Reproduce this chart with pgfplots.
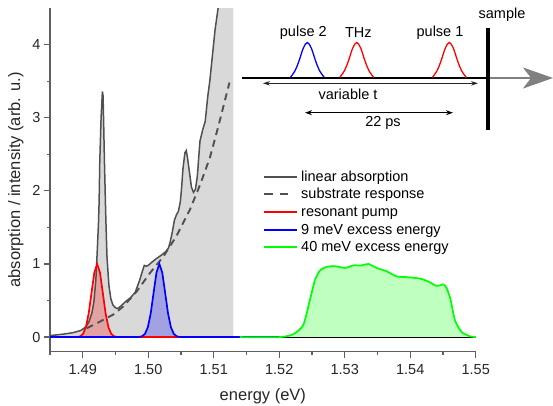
\documentclass[border=0pt]{standalone}
\usepackage{fontspec}
\setmainfont{Liberation Sans}
\usepackage{pgfplots}
\pgfplotsset{compat=1.18}
\usetikzlibrary{arrows.meta}
\definecolor{absgray}{RGB}{80,80,80}
\definecolor{fillgray}{RGB}{217,217,217}
\definecolor{axgray}{RGB}{95,95,95}
\newcommand\fs{\fontsize{14.5}{17}\selectfont}
\newcommand\fl{\fontsize{16.5}{19}\selectfont}
\newcommand\pulse[2]{\draw[#2, line width=1.3pt] plot[smooth, tension=0.6] coordinates {(#1-17,327.5) (#1-12,334.8) (#1-8,344.9) (#1-4,356.9) (#1,362.5) (#1+4,356.9) (#1+8,344.9) (#1+12,334.8) (#1+17,327.5)};}
\begin{document}
\begin{tikzpicture}[x=1pt,y=1pt]
\path[use as bounding box] (0,0) rectangle (553,405);
\begin{axis}[
  at={(50pt,53.3pt)}, anchor=south west, scale only axis,
  width=425.7pt, height=343.7pt,
  xmin=1.485, xmax=1.55, ymin=-0.2, ymax=4.5,
  axis lines*=left, axis line style={axgray, line width=1.4pt},
  tick align=outside, major tick length=6pt, minor tick length=3.5pt,
  every tick/.style={axgray, line width=1.2pt},
  xtick={1.49,1.50,1.51,1.52,1.53,1.54,1.55},
  xticklabels={1.49,1.50,1.51,1.52,1.53,1.54,1.55},
  minor xtick={1.485,1.495,1.505,1.515,1.525,1.535,1.545},
  ytick={0,1,2,3,4}, yticklabels={0,1,2,3,4},
  minor ytick={0.5,1.5,2.5,3.5},
  tick label style={font=\fs, text=black!85},
  xticklabel style={yshift=-3pt},
  xlabel={energy (eV)}, ylabel={absorption / intensity (arb. u.)},
  label style={font=\fl, text=black!85},
  xlabel style={at={(axis description cs:0.5,-0.129)}, anchor=center},
  ylabel style={at={(axis description cs:-0.08,0.5)}, anchor=center},
]
% linear absorption fill
\addplot[fill=fillgray, draw=none] coordinates {
(1.4850,0.02) (1.4870,0.04) (1.4885,0.06) (1.4897,0.09) (1.4905,0.14) (1.4910,0.22)
(1.4914,0.33) (1.4917,0.48) (1.4920,0.78) (1.4922,1.15) (1.4924,1.55) (1.4925,1.85)
(1.4926,2.40) (1.4928,3.00) (1.4930,3.36) (1.4931,3.30) (1.4932,2.90) (1.4933,2.45)
(1.4935,1.70) (1.4937,1.10) (1.4940,0.70) (1.4943,0.52) (1.4946,0.44) (1.4950,0.40)
(1.4954,0.39) (1.4960,0.44) (1.4966,0.49) (1.4972,0.53) (1.4980,0.61) (1.4987,0.78)
(1.4991,0.90) (1.4994,0.98) (1.4997,0.97) (1.5000,0.98) (1.5005,1.02) (1.5012,1.07)
(1.5020,1.12) (1.5027,1.17) (1.5031,1.22) (1.5034,1.32) (1.5037,1.45) (1.5040,1.60)
(1.5043,1.67) (1.5046,1.72) (1.5049,1.85) (1.5051,2.05) (1.5053,2.30) (1.5056,2.52)
(1.5058,2.55) (1.5060,2.45) (1.5063,2.25) (1.5066,2.05) (1.5069,1.98) (1.5072,2.02)
(1.5075,2.20) (1.5077,2.45) (1.5079,2.68) (1.5083,2.83) (1.5087,2.95) (1.5091,3.30)
(1.5094,3.50) (1.5098,3.85) (1.5102,4.20) (1.5107,4.52) (1.5113,4.95) (1.5120,5.50)
(1.5130,6.30)} \closedcycle;
% pulse fills
\addplot[draw=none, fill=red, fill opacity=0.25] coordinates {
(1.48919,0.002) (1.48962,0.011) (1.49005,0.044) (1.49048,0.135) (1.49091,0.325)
(1.49134,0.607) (1.49177,0.883) (1.4922,1.0) (1.49263,0.883) (1.49306,0.607)
(1.49349,0.325) (1.49392,0.135) (1.49435,0.044) (1.49478,0.011) (1.49521,0.002)} \closedcycle;
\addplot[draw=none, fill=blue, fill opacity=0.25] coordinates {
(1.49862,0.002) (1.49906,0.011) (1.4995,0.044) (1.49994,0.135) (1.50038,0.325)
(1.50082,0.607) (1.50126,0.883) (1.5017,1.0) (1.50214,0.883) (1.50258,0.607)
(1.50302,0.325) (1.50346,0.135) (1.5039,0.044) (1.50434,0.011) (1.50478,0.002)} \closedcycle;
\addplot[draw=none, fill=green, fill opacity=0.25, smooth, tension=0.4] coordinates {
(1.5140,0) (1.52011,0) (1.52215,0.04) (1.52367,0.165) (1.52469,0.51) (1.52546,0.78)
(1.52622,0.91) (1.52724,0.96) (1.52851,0.97) (1.53004,0.945) (1.5313,0.98)
(1.53258,0.98) (1.5336,1.0) (1.53488,0.945) (1.5364,0.90) (1.53793,0.83)
(1.53946,0.82) (1.54149,0.80) (1.54276,0.76) (1.54403,0.70) (1.54505,0.72)
(1.54556,0.67) (1.54617,0.51) (1.54683,0.23) (1.54785,0.07) (1.54912,0.01) (1.5500,0)} \closedcycle;
% zero line
\addplot[black, line width=1pt] coordinates {(1.485,0) (1.55,0)};
% linear absorption line
\addplot[absgray, line width=1.5pt] coordinates {
(1.4850,0.02) (1.4870,0.04) (1.4885,0.06) (1.4897,0.09) (1.4905,0.14) (1.4910,0.22)
(1.4914,0.33) (1.4917,0.48) (1.4920,0.78) (1.4922,1.15) (1.4924,1.55) (1.4925,1.85)
(1.4926,2.40) (1.4928,3.00) (1.4930,3.36) (1.4931,3.30) (1.4932,2.90) (1.4933,2.45)
(1.4935,1.70) (1.4937,1.10) (1.4940,0.70) (1.4943,0.52) (1.4946,0.44) (1.4950,0.40)
(1.4954,0.39) (1.4960,0.44) (1.4966,0.49) (1.4972,0.53) (1.4980,0.61) (1.4987,0.78)
(1.4991,0.90) (1.4994,0.98) (1.4997,0.97) (1.5000,0.98) (1.5005,1.02) (1.5012,1.07)
(1.5020,1.12) (1.5027,1.17) (1.5031,1.22) (1.5034,1.32) (1.5037,1.45) (1.5040,1.60)
(1.5043,1.67) (1.5046,1.72) (1.5049,1.85) (1.5051,2.05) (1.5053,2.30) (1.5056,2.52)
(1.5058,2.55) (1.5060,2.45) (1.5063,2.25) (1.5066,2.05) (1.5069,1.98) (1.5072,2.02)
(1.5075,2.20) (1.5077,2.45) (1.5079,2.68) (1.5083,2.83) (1.5087,2.95) (1.5091,3.30)
(1.5094,3.50) (1.5098,3.85) (1.5102,4.20) (1.5107,4.52) (1.5113,4.95) (1.5120,5.50)
(1.5130,6.30)};
% substrate response
\addplot[absgray, line width=1.9pt, dash pattern=on 7pt off 5pt] coordinates {
(1.4906,0.12) (1.4926,0.21) (1.4947,0.31) (1.4962,0.42) (1.4982,0.62) (1.5003,0.88)
(1.5023,1.10) (1.5043,1.38) (1.5064,1.75) (1.5079,2.08) (1.5094,2.45) (1.5107,2.88)
(1.5124,3.48)};
% pulses
\addplot[red, line width=1.7pt] coordinates {
(1.485,0) (1.48919,0.002) (1.48962,0.011) (1.49005,0.044) (1.49048,0.135) (1.49091,0.325)
(1.49134,0.607) (1.49177,0.883) (1.4922,1.0) (1.49263,0.883) (1.49306,0.607)
(1.49349,0.325) (1.49392,0.135) (1.49435,0.044) (1.49478,0.011) (1.49521,0.002) (1.520,0)};
\addplot[blue, line width=1.7pt] coordinates {
(1.485,0) (1.49862,0.002) (1.49906,0.011) (1.4995,0.044) (1.49994,0.135) (1.50038,0.325)
(1.50082,0.607) (1.50126,0.883) (1.5017,1.0) (1.50214,0.883) (1.50258,0.607)
(1.50302,0.325) (1.50346,0.135) (1.5039,0.044) (1.50434,0.011) (1.50478,0.002) (1.520,0)};
\addplot[green, line width=1.7pt, smooth, tension=0.4] coordinates {
(1.5140,0) (1.52011,0) (1.52215,0.04) (1.52367,0.165) (1.52469,0.51) (1.52546,0.78)
(1.52622,0.91) (1.52724,0.96) (1.52851,0.97) (1.53004,0.945) (1.5313,0.98)
(1.53258,0.98) (1.5336,1.0) (1.53488,0.945) (1.5364,0.90) (1.53793,0.83)
(1.53946,0.82) (1.54149,0.80) (1.54276,0.76) (1.54403,0.70) (1.54505,0.72)
(1.54556,0.67) (1.54617,0.51) (1.54683,0.23) (1.54785,0.07) (1.54912,0.01) (1.5500,0)};
\end{axis}
% legend
\draw[absgray, line width=1.6pt] (264,228.3) -- (296.5,228.3);
\draw[absgray, line width=1.8pt, dash pattern=on 8.5pt off 7.3pt] (264,210.7) -- (289.3,210.7);
\draw[red, line width=1.7pt] (264,193) -- (296.5,193);
\draw[blue, line width=1.7pt] (264,175.3) -- (296.5,175.3);
\draw[green, line width=1.7pt] (264,157.7) -- (296.5,157.7);
\node[anchor=base west, inner sep=0, font=\fs] at (301,223.8) {linear absorption};
\node[anchor=base west, inner sep=0, font=\fs] at (301,206.2) {substrate response};
\node[anchor=base west, inner sep=0, font=\fs] at (301,188.5) {resonant pump};
\node[anchor=base west, inner sep=0, font=\fs] at (301,170.8) {9 meV excess energy};
\node[anchor=base west, inner sep=0, font=\fs] at (301,153.2) {40 meV excess energy};
% inset schematic
\draw[black, line width=1.7pt] (242,327) -- (488,327);
\draw[gray, line width=2.2pt, -{Stealth[length=30pt, width=21pt, inset=8pt]}] (488,327) -- (553,327);
\draw[black, line width=3.8pt] (487.7,377) -- (487.7,275);
\node[font=\fs] at (502,390) {sample};
\pulse{307.3}{blue}
\pulse{356.7}{red}
\pulse{449.3}{red}
\node[font=\fs] at (303.3,372) {pulse 2};
\node[font=\fs] at (358.3,372) {THz};
\node[font=\fs] at (440,372) {pulse 1};
\draw[black!85, line width=1pt, {Stealth[length=7pt,width=4.5pt]}-{Stealth[length=7pt,width=4.5pt]}] (263,321.7) -- (478,321.7);
\node[font=\fs] at (348,310.5) {variable t};
\draw[black, line width=1.4pt, {Stealth[length=7pt,width=5pt]}-{Stealth[length=7pt,width=5pt]}] (305,292.3) -- (453,292.3);
\node[font=\fs] at (383,282) {22 ps};
\end{tikzpicture}
\end{document}
